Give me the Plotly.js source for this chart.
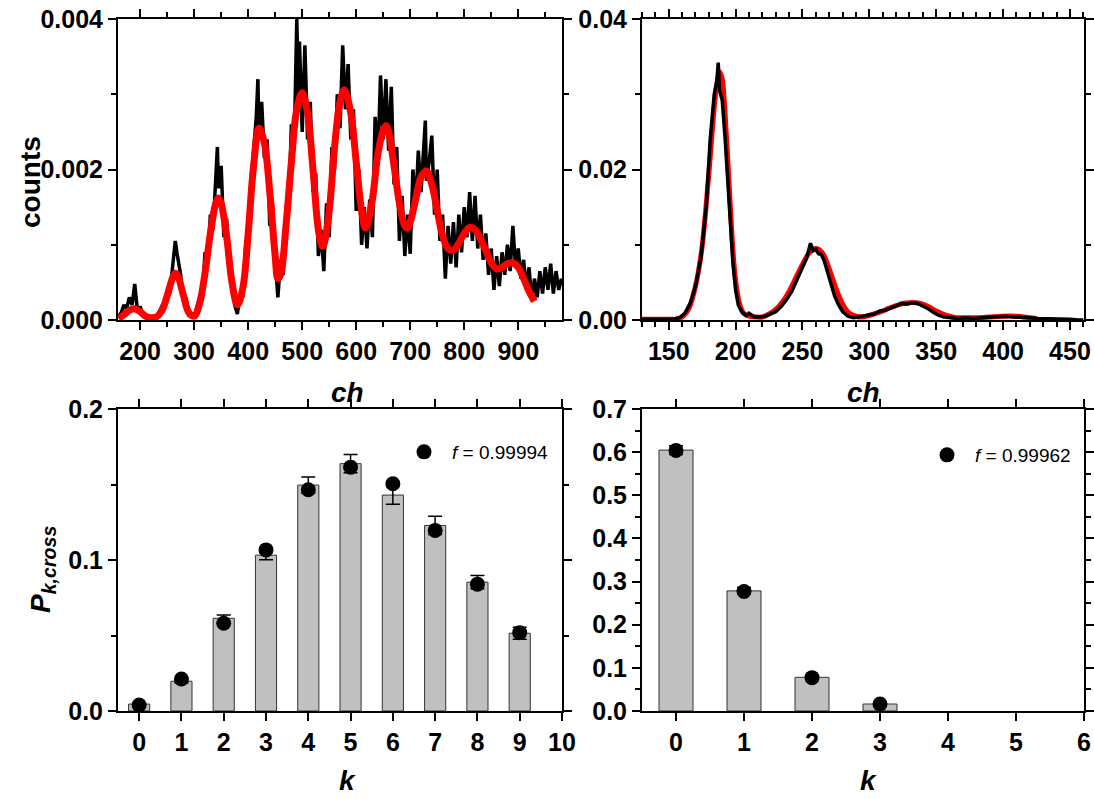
<!DOCTYPE html>
<html>
<head>
<meta charset="utf-8">
<script src="https://cdn.plot.ly/plotly-3.0.1.min.js"></script>
<style>html,body{margin:0;padding:0;background:#fff}#chart{width:1094px;height:799px}</style>
</head>
<body>
<div id="chart"></div>
<script>
// ---- Top-left: spectrum (channel vs counts) ----
const chA = [160,165,170,175,180,185,190,195,200,205,210,215,220,225,230,235,240,245,250,255,260,265,268,270,275,280,285,290,295,300,305,310,315,320,325,330,335,340,343,345,350,355,360,365,370,375,380,385,390,395,400,405,410,415,418,420,425,430,435,440,445,450,455,460,465,470,475,480,485,490,493,495,500,505,510,515,520,525,530,535,540,545,550,555,560,565,570,575,580,585,590,595,600,605,610,615,620,625,630,635,640,645,650,655,660,665,670,675,680,685,690,695,700,705,710,715,720,725,728,730,735,740,745,750,755,760,765,770,775,780,785,790,795,800,805,810,815,820,825,830,835,840,845,850,855,860,865,870,875,880,885,890,895,900,905,910,915,920,925,930,935,940,945,950,955,960,965,970,975,980];
const countsA = [0.00005,0.00010,0.00020,0.00015,0.00030,0.00020,0.00048,0.00012,0.00018,0.00006,0.00004,0.00002,0.00003,0.00005,0.00003,0.00010,0.00018,0.00015,0.00040,0.00035,0.00070,0.00105,0.00090,0.00080,0.00060,0.00025,0.00030,0.00005,0.00008,0.00003,0.00018,0.00030,0.00025,0.00090,0.00075,0.00140,0.00120,0.00190,0.00230,0.00175,0.00205,0.00110,0.00135,0.00075,0.00060,0.00020,0.00008,0.00035,0.00030,0.00095,0.00095,0.00180,0.00220,0.00270,0.00320,0.00245,0.00290,0.00215,0.00240,0.00125,0.00155,0.00080,0.00030,0.00080,0.00060,0.00150,0.00145,0.00260,0.00225,0.00400,0.00300,0.00370,0.00250,0.00365,0.00240,0.00290,0.00170,0.00195,0.00085,0.00120,0.00065,0.00155,0.00110,0.00230,0.00200,0.00300,0.00255,0.00365,0.00280,0.00340,0.00240,0.00280,0.00145,0.00200,0.00100,0.00150,0.00095,0.00160,0.00110,0.00270,0.00210,0.00325,0.00240,0.00320,0.00225,0.00310,0.00180,0.00230,0.00105,0.00165,0.00085,0.00140,0.00088,0.00200,0.00150,0.00225,0.00170,0.00235,0.00265,0.00185,0.00210,0.00245,0.00140,0.00200,0.00105,0.00140,0.00055,0.00125,0.00075,0.00130,0.00070,0.00140,0.00090,0.00150,0.00110,0.00170,0.00105,0.00165,0.00095,0.00140,0.00080,0.00115,0.00060,0.00095,0.00040,0.00085,0.00045,0.00090,0.00060,0.00100,0.00065,0.00125,0.00070,0.00095,0.00055,0.00080,0.00040,0.00070,0.00025,0.00055,0.00030,0.00065,0.00035,0.00070,0.00040,0.00075,0.00035,0.00065,0.00040,0.00055];
const chFitA = [160,170,180,190,200,210,220,230,240,250,260,265,270,280,290,300,310,320,330,340,345,350,360,370,380,390,400,410,420,430,440,450,455,460,470,480,490,500,510,520,530,537,540,550,560,570,578,590,600,610,617,620,630,640,650,655,660,670,680,690,695,700,710,720,730,740,750,760,770,780,790,800,810,820,830,840,850,860,870,880,890,900,910,920,930];
const fitA = [0.00002,0.00007,0.00013,0.00015,0.00011,0.00005,0.00003,0.00004,0.00012,0.00032,0.00056,0.00062,0.00058,0.00033,0.00010,0.00005,0.00022,0.00062,0.00115,0.00155,0.00162,0.00155,0.00112,0.00050,0.00020,0.00042,0.00115,0.00205,0.00255,0.00235,0.00170,0.00085,0.00055,0.00060,0.00125,0.00210,0.00280,0.00302,0.00275,0.00200,0.00120,0.00098,0.00100,0.00145,0.00230,0.00290,0.00306,0.00275,0.00210,0.00145,0.00122,0.00125,0.00160,0.00220,0.00252,0.00258,0.00250,0.00205,0.00155,0.00125,0.00122,0.00130,0.00160,0.00190,0.00198,0.00180,0.00145,0.00112,0.00095,0.00093,0.00102,0.00115,0.00123,0.00120,0.00108,0.00092,0.00076,0.00068,0.00070,0.00075,0.00076,0.00070,0.00055,0.00038,0.00025];

// ---- Top-right: spectrum ----
const chB = [130,134,138,142,146,150,154,158,162,166,170,174,178,181,184,186,187,188,190,192,194,196,198,200,202,205,208,210,214,218,222,226,230,234,238,242,246,250,253,256,258,260,262,264,266,268,270,272,274,277,280,284,288,292,296,300,304,308,312,316,320,324,328,332,336,340,344,348,352,356,360,366,372,378,384,390,396,402,408,414,420,426,432,438,444,450,456,460];
const countsB = [0.0001,0.0001,0.0001,0.0001,0.0001,0.0001,0.0001,0.0003,0.0009,0.0022,0.0045,0.0082,0.0150,0.0240,0.0300,0.0318,0.0342,0.0305,0.0292,0.0245,0.0192,0.0122,0.0076,0.0040,0.0020,0.0010,0.0006,0.0009,0.0004,0.0004,0.0005,0.0008,0.0011,0.0018,0.0027,0.0038,0.0055,0.0072,0.0082,0.0102,0.0092,0.0094,0.0088,0.0087,0.0080,0.0068,0.0055,0.0042,0.0032,0.0020,0.0011,0.0005,0.0003,0.0004,0.0006,0.0007,0.0008,0.0012,0.0013,0.0016,0.0018,0.0022,0.0021,0.0023,0.0022,0.0019,0.0015,0.0010,0.0006,0.0004,0.0003,0.0002,0.0003,0.0002,0.0003,0.0004,0.0004,0.0005,0.0004,0.0004,0.0003,0.0002,0.0002,0.0001,0.0001,0.0001,0.0000,0.0000];
const chFitB = [130,140,150,155,160,165,170,175,180,185,188,190,193,195,198,200,203,206,210,215,220,225,230,235,240,245,250,255,260,265,270,275,280,285,290,295,300,305,310,315,320,325,330,335,340,345,350,355,360,365,370,380,390,400,410,420,425];
const fitB = [0.0001,0.0001,0.0001,0.0001,0.0004,0.0015,0.0045,0.0098,0.0195,0.0300,0.0330,0.0320,0.0248,0.0185,0.0092,0.0052,0.0021,0.0009,0.0005,0.0004,0.0004,0.0008,0.0014,0.0024,0.0038,0.0056,0.0074,0.0089,0.0095,0.0089,0.0068,0.0042,0.0021,0.0009,0.0005,0.0004,0.0006,0.0009,0.0012,0.0016,0.0019,0.0022,0.0023,0.0023,0.0021,0.0017,0.0012,0.0008,0.0005,0.0003,0.0003,0.0003,0.0004,0.0005,0.0005,0.0003,0.0002];

// ---- Bottom-left: P_k,cross ----
const kC = [0,1,2,3,4,5,6,7,8,9];
const barC = [0.0046,0.0197,0.0614,0.1032,0.1496,0.1638,0.1430,0.1229,0.0853,0.0515];
const errC = [0.0005,0.0012,0.0022,0.0030,0.0054,0.0060,0.0060,0.0060,0.0044,0.0040];
const ptC = [0.0040,0.0212,0.0581,0.1067,0.1465,0.1615,0.1505,0.1196,0.0840,0.0519];
const legendC = '<i>f</i> = 0.99994';

// ---- Bottom-right ----
const kD = [0,1,2,3];
const barD = [0.6048,0.2784,0.0781,0.0162];
const errD = [0.010,0.008,0.005,0.003];
const ptD = [0.6040,0.2770,0.0773,0.0160];
const legendD = '<i>f</i> = 0.99962';

const FONT = 'Liberation Sans, Arial, sans-serif';
const W = 1094, H = 799;
const px = v => v / W, py = v => 1 - v / H;

const traces = [
  {x: chA, y: countsA, type: 'scatter', mode: 'lines', line: {color: '#000', width: 3.5}, xaxis: 'x', yaxis: 'y', showlegend: false},
  {x: chFitA, y: fitA, type: 'scatter', mode: 'lines', line: {color: '#ff0000', width: 7, shape: 'spline', smoothing: 1}, xaxis: 'x', yaxis: 'y', showlegend: false},
  {x: chFitB, y: fitB, type: 'scatter', mode: 'lines', line: {color: '#ff0000', width: 5, shape: 'spline', smoothing: 0.8}, xaxis: 'x2', yaxis: 'y2', showlegend: false},
  {x: chB, y: countsB, type: 'scatter', mode: 'lines', line: {color: '#000', width: 3.5}, xaxis: 'x2', yaxis: 'y2', showlegend: false},
  {x: kC, y: barC, type: 'bar', width: 0.5, marker: {color: '#c0c0c0', line: {color: '#333', width: 1}},
   error_y: {type: 'data', array: errC, visible: true, color: '#000', thickness: 1.5, width: 7}, xaxis: 'x3', yaxis: 'y3', showlegend: false},
  {x: kC, y: ptC, type: 'scatter', mode: 'markers', marker: {color: '#000', size: 15}, name: legendC, xaxis: 'x3', yaxis: 'y3', showlegend: true, legend: 'legend'},
  {x: kD, y: barD, type: 'bar', width: 0.5, marker: {color: '#c0c0c0', line: {color: '#333', width: 1}},
   error_y: {type: 'data', array: errD, visible: true, color: '#000', thickness: 1.5, width: 7}, xaxis: 'x4', yaxis: 'y4', showlegend: false},
  {x: kD, y: ptD, type: 'scatter', mode: 'markers', marker: {color: '#000', size: 15}, name: legendD, xaxis: 'x4', yaxis: 'y4', showlegend: true, legend: 'legend2'}
];

const tickFont = {family: FONT, size: 25, color: '#000', weight: 'bold'};
function ax(domain, range, dtick, minorD, fmt, anchor, extra) {
  const a = {
    domain: domain, range: range, dtick: dtick, tick0: 0, tickformat: fmt, anchor: anchor,
    showline: true, linecolor: '#000', linewidth: 2, mirror: 'ticks',
    ticks: 'outside', ticklen: 8, tickwidth: 2, tickcolor: '#000',
    showgrid: false, zeroline: false, tickfont: tickFont, fixedrange: true
  };
  if (minorD) a.minor = {dtick: minorD, ticks: 'outside', ticklen: 5, tickwidth: 2, tickcolor: '#000', showgrid: false};
  return Object.assign(a, extra || {});
}
const xL = [px(118), px(562)], xR = [px(642), px(1084)];
const yT = [py(320), py(19)], yB = [py(711), py(409)];

const titleFont = {family: FONT, size: 28, color: '#000', weight: 'bold'};
const ann = (text, x, y, angle) => ({text: text, x: px(x), y: py(y), xref: 'paper', yref: 'paper', showarrow: false, textangle: angle || 0, font: titleFont, xanchor: 'center', yanchor: 'middle'});

const legFont = {family: FONT, size: 19, color: '#000'};
const layout = {
  width: W, height: H, margin: {l: 0, r: 0, t: 0, b: 0}, paper_bgcolor: '#fff', plot_bgcolor: '#fff',
  font: {family: FONT, color: '#000'},
  bargap: 0,
  xaxis: ax(xL, [159, 981], 100, 50, 'd', 'y', {tick0: 200}),
  yaxis: ax(yT, [0, 0.004], 0.002, 0.001, '.3f', 'x'),
  xaxis2: ax(xR, [130, 460.5], 50, 10, 'd', 'y2', {tick0: 150}),
  yaxis2: ax(yT, [0, 0.04], 0.02, 0.01, '.2f', 'x2'),
  xaxis3: ax(xL, [-0.5, 10], 1, null, 'd', 'y3'),
  yaxis3: ax(yB, [0, 0.2], 0.1, 0.05, '.1f', 'x3'),
  xaxis4: ax(xR, [-0.5, 6], 1, null, 'd', 'y4'),
  yaxis4: ax(yB, [0, 0.7], 0.1, 0.05, '.1f', 'x4'),
  legend: {x: px(396), y: py(433), xanchor: 'left', yanchor: 'top', itemwidth: 46, itemsizing: 'trace', bgcolor: 'rgba(0,0,0,0)', borderwidth: 0, font: legFont},
  legend2: {x: px(919), y: py(436), xanchor: 'left', yanchor: 'top', itemwidth: 46, itemsizing: 'trace', bgcolor: 'rgba(0,0,0,0)', borderwidth: 0, font: legFont},
  annotations: [
    ann('counts', 30, 182, -90),
    ann('<i>ch</i>', 347, 392),
    ann('<i>ch</i>', 863, 392),
    ann('<i>k</i>', 347, 780),
    ann('<i>k</i>', 868, 780),
    ann('<i>P<sub>k,cross</sub></i>', 42, 570, -90)
  ]
};

Plotly.newPlot('chart', traces, layout, {displayModeBar: false, staticPlot: true});
</script>
</body>
</html>
